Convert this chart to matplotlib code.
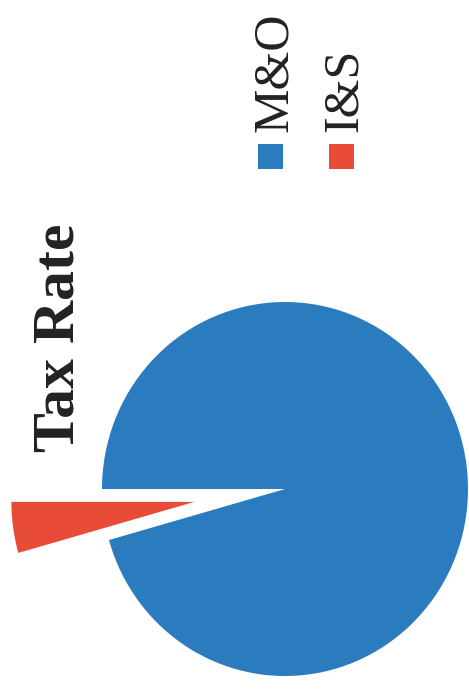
import matplotlib
matplotlib.use("Agg")
import matplotlib.pyplot as plt
from matplotlib.patches import Rectangle

# data
labels = ["M&O", "I&S"]
values = [95.6, 4.4]
colors = ["#2b7bbf", "#e84b37"]
title = "Tax Rate"

W, H = 469, 693
fig = plt.figure(figsize=(W / 100, H / 100), dpi=100)
fig.patch.set_facecolor("white")

def fx(px):
    return px / W

def fy(py):
    return 1 - py / H

# pie (scanned page is rotated, so the whole chart is on its side)
ax = fig.add_axes([0, 0, 1, 1])
share_is = values[1] / sum(values)
ax.pie(values, colors=colors, startangle=180 + 360 * share_is,
       explode=[0, 0.5], counterclock=True,
       wedgeprops=dict(linewidth=0))
ax.set_aspect("auto")
ax.set_xlim(-285 / 183, (W - 285) / 183)
ax.set_ylim(-(H - 489) / 187, 489 / 187)
ax.axis("off")

# title
fig.text(fx(73), fy(452), title, rotation=90, rotation_mode="anchor",
         ha="left", va="baseline", fontsize=43, fontweight="bold",
         family="Liberation Serif", color="#222222")

# legend
leg_x = [287, 357]
sq_x = [258, 329]
for lab, col, tx, sx in zip(labels, colors, leg_x, sq_x):
    fig.patches.append(Rectangle((fx(sx), fy(169)), 25 / W, 25 / H,
                                 transform=fig.transFigure,
                                 facecolor=col, edgecolor="none"))
    fig.text(fx(tx), fy(132), lab, rotation=90, rotation_mode="anchor",
             ha="left", va="baseline", fontsize=36,
             family="Liberation Serif", color="#222222")

fig.savefig("out.png", dpi=100, facecolor="white")
